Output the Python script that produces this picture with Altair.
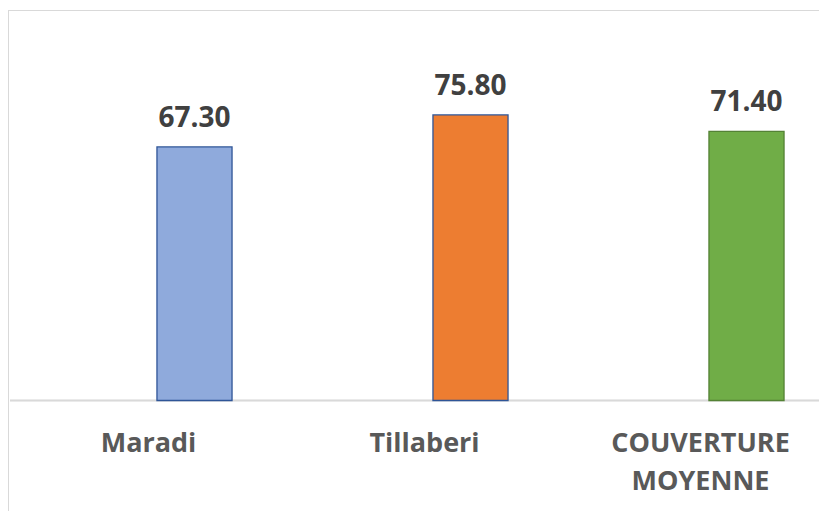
import altair as alt
import pandas as pd

categories = ["Maradi", "Tillaberi", "COUVERTURE|MOYENNE"]
values = [67.30, 75.80, 71.40]
fills = ["#8FAADC", "#ED7D31", "#70AD47"]
strokes = ["#2F5597", "#2F5597", "#548235"]

df = pd.DataFrame({"cat": categories, "val": values, "fill": fills, "stroke": strokes})
df["lbl"] = df["val"].map(lambda v: f"{v:.2f}")

W = 811
H = 376.8

x = alt.X("cat:N", sort=categories, title=None,
          scale=alt.Scale(range=[48.5, 876.5], paddingInner=0.728, paddingOuter=0.364),
          axis=alt.Axis(labelAngle=0, domain=False, ticks=False, tickSize=0,
                        labelPadding=50.5, labelBaseline="alphabetic", labelOffset=-46,
                        labelExpr="split(datum.label, '|')",
                        labelLineHeight=38, labelFont="Open Sans", labelFontSize=27,
                        labelFontWeight="bold", labelColor="#595959"))
y = alt.Y("val:Q", scale=alt.Scale(domain=[0, 100]), axis=None)

bars = alt.Chart(df).mark_bar(strokeWidth=1.3).encode(
    x=x, y=y,
    fill=alt.Fill("fill:N", scale=None),
    stroke=alt.Stroke("stroke:N", scale=None),
)

labels = alt.Chart(df).mark_text(
    font="Open Sans", fontSize=28, fontWeight="bold", color="#404040",
    baseline="alphabetic", dy=-20
).encode(x=x, y=y, text="lbl:N")

baseline = alt.Chart(df).mark_rule(color="#D9D9D9", strokeWidth=1.5).encode(
    x=alt.value(2), x2=alt.value(W), y=alt.value(H), y2=alt.value(H))

border_top = alt.Chart(df).mark_rule(color="#D9D9D9", strokeWidth=1).encode(
    x=alt.value(0.5), x2=alt.value(W), y=alt.value(-13.2), y2=alt.value(-13.2))
border_left = alt.Chart(df).mark_rule(color="#D9D9D9", strokeWidth=1).encode(
    x=alt.value(0.5), x2=alt.value(0.5), y=alt.value(-13.2), y2=alt.value(H + 130))

chart = alt.layer(border_top, border_left, baseline, bars, labels).properties(
    width=W, height=H,
    autosize=alt.AutoSizeParams(type="none"),
    padding={"left": 0, "top": 15.7, "right": 0, "bottom": 110},
).configure(background="white", view=alt.ViewConfig(stroke=None))

chart.save("out.html", embed_options={"renderer": "svg", "actions": False})
